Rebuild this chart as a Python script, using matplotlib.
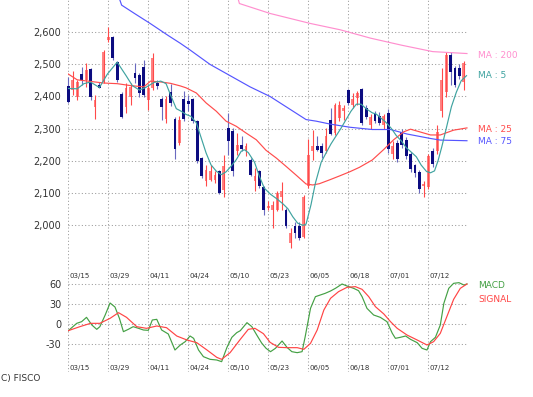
import matplotlib
matplotlib.use('Agg')
import matplotlib.pyplot as plt
import numpy as np

# daily candles, 2013-03-15 .. 2013-07-25 (90 sessions)
opens = [2433, 2420, 2399, 2470, 2451, 2485, 2366, 2436, 2446, 2576,
         2586, 2508, 2408, 2368, 2399, 2474, 2467, 2493, 2389, 2425,
         2443, 2392, 2330, 2415, 2330, 2255, 2391, 2385, 2391, 2323,
         2208, 2135, 2141, 2141, 2167, 2109, 2302, 2292, 2229, 2250,
         2229, 2203, 2135, 2167, 2117, 2052, 2047, 2047, 2086, 2047,
         1943, 1995, 1995, 1963, 2120, 2229, 2245, 2245, 2229, 2328,
         2286, 2333, 2354, 2419, 2375, 2396, 2422, 2365, 2310, 2345,
         2340, 2310, 2350, 2220, 2255, 2290, 2265, 2220, 2185, 2165,
         2120, 2118, 2230, 2230, 2355, 2415, 2530, 2490, 2490, 2445]
highs = [2462, 2480, 2451, 2493, 2503, 2490, 2405, 2446, 2545, 2618,
         2589, 2510, 2415, 2441, 2441, 2503, 2472, 2514, 2436, 2535,
         2451, 2399, 2400, 2440, 2335, 2338, 2417, 2406, 2396, 2328,
         2210, 2187, 2187, 2167, 2172, 2219, 2349, 2302, 2286, 2276,
         2255, 2208, 2177, 2172, 2120, 2073, 2073, 2104, 2133, 2052,
         1989, 2010, 2010, 2094, 2266, 2297, 2276, 2255, 2302, 2365,
         2380, 2385, 2375, 2422, 2411, 2417, 2427, 2372, 2345, 2355,
         2352, 2345, 2360, 2260, 2265, 2300, 2275, 2228, 2190, 2170,
         2135, 2222, 2240, 2310, 2490, 2538, 2540, 2495, 2500, 2512]
lows = [2379, 2405, 2389, 2436, 2431, 2389, 2330, 2425, 2441, 2571,
        2514, 2446, 2332, 2347, 2373, 2441, 2399, 2399, 2358, 2420,
        2422, 2327, 2318, 2370, 2205, 2250, 2323, 2354, 2318, 2193,
        2146, 2120, 2135, 2130, 2095, 2088, 2219, 2151, 2219, 2229,
        2213, 2151, 2104, 2114, 2031, 2047, 1989, 2042, 2046, 1989,
        1927, 1958, 1953, 1958, 2114, 2203, 2229, 2208, 2224, 2281,
        2281, 2323, 2328, 2375, 2365, 2375, 2312, 2330, 2300, 2318,
        2310, 2300, 2225, 2205, 2195, 2240, 2205, 2165, 2150, 2100,
        2085, 2112, 2180, 2222, 2335, 2397, 2435, 2430, 2455, 2420]
closes = [2384, 2451, 2446, 2451, 2483, 2397, 2389, 2428, 2540, 2586,
          2519, 2451, 2337, 2425, 2431, 2457, 2410, 2405, 2428, 2519,
          2433, 2368, 2392, 2380, 2235, 2328, 2330, 2376, 2323, 2198,
          2151, 2172, 2167, 2156, 2100, 2182, 2260, 2167, 2250, 2236,
          2245, 2156, 2151, 2120, 2047, 2057, 2062, 2099, 2105, 1995,
          1974, 1974, 1958, 2088, 2219, 2245, 2232, 2224, 2276, 2283,
          2375, 2375, 2364, 2380, 2391, 2411, 2318, 2335, 2335, 2325,
          2318, 2340, 2235, 2245, 2205, 2250, 2215, 2175, 2160, 2110,
          2128, 2215, 2190, 2290, 2450, 2530, 2475, 2435, 2465, 2505]

date_labels = ['03/15', '03/29', '04/11', '04/24', '05/10',
               '05/23', '06/05', '06/18', '07/01', '07/12']
date_pos = [0, 9, 18, 27, 36, 45, 54, 63, 72, 81]

# moving averages (session index, price)
ma5_x = [0, 2, 3.5, 5, 7, 8.8, 11, 13, 14.4, 16, 17.4, 19.3, 20.8, 22, 23,
         24.3, 25.4, 26.5, 27.6, 28.8, 29.9, 31, 32.1, 33.3, 34.4, 35.5,
         36.6, 37.8, 38.9, 39.6, 40.5, 41.9, 43, 44.1, 45.5, 47, 48.3, 49.4,
         50.5, 51.6, 52.8, 53.5, 54.6, 55.6, 56.9, 58, 59.1, 60.3, 61.4,
         62.5, 63.6, 64.8, 65.9, 67, 68.4, 69.3, 71.5, 72.7, 73.8, 74.9, 76,
         77.2, 78.3, 79.4, 80.6, 81.5, 82.4, 83.2, 84, 85.1, 86.2, 87.3,
         88.4, 89.6]
ma5_y = [2425, 2424, 2440, 2445, 2428, 2470, 2507, 2465, 2434, 2420, 2428,
         2444, 2448, 2440, 2405, 2362, 2354, 2344, 2338, 2318, 2271, 2224,
         2187, 2167, 2156, 2165, 2182, 2203, 2229, 2234, 2225, 2195, 2151,
         2114, 2095, 2080, 2065, 2050, 2025, 2005, 1998, 2002, 2062, 2130,
         2195, 2224, 2252, 2278, 2302, 2328, 2354, 2376, 2376, 2362, 2349,
         2345, 2319, 2300, 2278, 2262, 2241, 2226, 2212, 2186, 2166, 2162,
         2168, 2200, 2241, 2304, 2368, 2413, 2449, 2465]

ma25_x = [0, 2, 5, 8, 11, 14, 17, 18.5, 21, 23, 25.2, 26.5, 28.8, 31, 33.3,
          35.5, 37.8, 40, 42.3, 44.5, 46.8, 49, 51.4, 53.5, 55, 56.5, 58.8,
          61, 63.3, 65.5, 68.4, 71, 73.2, 75.5, 77, 79, 81.5, 83.7, 86.7,
          89.7]
ma25_y = [2470, 2452, 2447, 2442, 2440, 2434, 2430, 2448, 2445, 2441, 2433,
          2427, 2411, 2380, 2354, 2323, 2307, 2286, 2265, 2232, 2208, 2182,
          2153, 2127, 2124, 2128, 2140, 2152, 2165, 2179, 2202, 2235, 2265,
          2290, 2298, 2290, 2280, 2280, 2295, 2302]

ma75_x = [11.5, 12, 15, 18.4, 22.5, 25.2, 27.4, 31.9, 36.4, 40.9, 45.4,
          49.9, 53.5, 55.8, 58.9, 63.4, 68.4, 72.5, 76.2, 81.5, 83.7, 89.7]
ma75_y = [2705, 2685, 2658, 2628, 2590, 2566, 2545, 2500, 2465, 2430, 2400,
          2360, 2328, 2323, 2314, 2304, 2297, 2297, 2283, 2269, 2264, 2262]

ma200_x = [38.2, 38.5, 45.4, 54.4, 61.2, 68, 75, 82, 89.7]
ma200_y = [2705, 2690, 2659, 2628, 2608, 2582, 2560, 2540, 2534]

macd_x = [0, 1.9, 3, 4.1, 5.3, 6.4, 7.1, 8.3, 9.4, 10.5, 11.5, 12.4, 13.5,
          14.6, 15.8, 16.9, 18, 18.9, 19.9, 21, 22.5, 24, 25.2, 26.3, 27.4,
          28.2, 29.3, 30.4, 31.9, 33.4, 34.5, 35.7, 36.8, 37.9, 38.7, 40.2,
          41.3, 42.4, 43.5, 44.5, 45.5, 46.6, 48.1, 49.2, 50.3, 51.5, 52.6,
          53.3, 54.5, 55.6, 56.7, 57.8, 59, 60.1, 61.6, 62.7, 64.2, 65.3,
          66.1, 67.2, 68.7, 70.2, 71.7, 72.9, 73.6, 74.7, 75.9, 77, 78.5,
          79.6, 80.7, 81.5, 82.6, 83.7, 84.5, 85.6, 86.7, 87.9, 89, 89.7]
macd_y = [-9.5, 1.5, 4, 10.5, -1, -7.5, -3.5, 14, 32, 26, 9, -11, -7.5,
          -3.5, -6, -8.5, -9, 6.5, 7.5, -8.5, -14.5, -38.5, -31, -26, -17.5,
          -21, -38.5, -48.5, -52.5, -53.5, -56, -34.5, -19.5, -12.5, -9.5,
          2.5, -3.5, -16, -28, -36, -41, -36, -25, -34.5, -41, -42.5, -41,
          -18.5, 24, 41.5, 44, 46.5, 50, 54, 60.5, 57.5, 54, 50.5, 41.5, 24,
          14, 10.5, 4, -13.5, -21, -19.5, -17.5, -22.5, -27.5, -36, -38.5,
          -26, -19.5, -1, 31.5, 54, 61.5, 62.5, 59, 60.5]

signal_x = [0, 2.6, 5, 7.1, 9.4, 11.3, 13.1, 15.4, 17.6, 19.9, 22.1, 24.4,
            26.7, 28.9, 31.2, 33.4, 34.5, 36.4, 38.7, 40.5, 42, 43.9, 45.4,
            47.3, 49.2, 51.5, 53, 54.5, 56, 57.5, 59, 60.8, 62.7, 64.6, 66.1,
            67.6, 69.1, 71, 72.5, 74, 76.2, 78.5, 80.7, 82.2, 83.7, 85.2,
            86.7, 88.2, 89.7]
signal_y = [-9.5, -3.5, 1.5, 1.5, 9, 17.5, 10.5, -3.5, -6, -2.5, -5, -17.5,
            -23.5, -27.5, -38.5, -49.5, -52.5, -42.5, -22.5, -7.5, -6, -14,
            -27, -34.5, -35, -35, -37.5, -28.5, -8.5, 21.5, 39, 49, 55.5,
            56.5, 52.5, 41.5, 26.5, 15.5, 4, -6, -16, -23.5, -31, -26, -13.5,
            12, 37.5, 54, 60.5]

W, H = 533, 397
GRID = dict(color='#9a9a9a', lw=0.75, linestyle=(0, (1, 2.2)), zorder=0)
TXT = '#333333'
LW = 0.85

fig = plt.figure(figsize=(W / 100, H / 100), dpi=100)


def px_axes(left, top, right, bottom):
    return fig.add_axes([left / W, 1 - bottom / H, (right - left) / W, (bottom - top) / H])


ax = px_axes(68.3, 0, 468.3, 268)
ax2 = px_axes(68.3, 268, 468.3, 372)
for a in (ax, ax2):
    for s in a.spines.values():
        s.set_visible(False)
    a.set_xlim(0, 90)
    a.set_xticks([])
    a.tick_params(length=0, pad=5, labelsize=7, labelcolor=TXT)
    a.patch.set_alpha(0)
    for x in date_pos:
        a.axvline(x, **GRID)

ax.set_ylim(1865, 2701)
price_ticks = [2000, 2100, 2200, 2300, 2400, 2500, 2600]
ax.set_yticks(price_ticks, [f'{p:,}' for p in price_ticks])
for p in price_ticks:
    ax.axhline(p, **GRID)

# candles
idx = np.arange(len(closes))
o = np.array(opens)
c = np.array(closes)
up = c >= o
bot = np.minimum(o, c)
hgt = np.maximum(np.abs(c - o), 3)
ax.vlines(idx[~up], np.array(lows)[~up], np.array(highs)[~up],
          color='#6a6ac0', lw=0.8, zorder=2, clip_on=False)
ax.bar(idx[~up], hgt[~up], 0.64, bot[~up], color='#0c0c80', zorder=3, clip_on=False)
ax.bar(idx[up], hgt[up], 0.64, bot[up], color='#ff8282', zorder=3, clip_on=False)
ax.vlines(idx[up], np.array(lows)[up], np.array(highs)[up],
          color='#ff4a4a', lw=0.8, zorder=4, clip_on=False)

ax.plot(ma200_x, ma200_y, color='#ff8fcf', lw=LW, zorder=5)
ax.plot(ma75_x, ma75_y, color='#5555ff', lw=LW, zorder=5)
ax.plot(ma25_x, ma25_y, color='#ff4c4c', lw=LW, zorder=5)
ax.plot(ma5_x, ma5_y, color='#3fa3a0', lw=LW, zorder=6)

# MACD panel
ax2.set_ylim(-71.5, 84.5)
macd_ticks = [-30, 0, 30, 60]
ax2.set_yticks(macd_ticks, [str(v) for v in macd_ticks])
for v in macd_ticks:
    ax2.axhline(v, **GRID)
ax2.plot(macd_x, macd_y, color='#44a044', lw=LW, zorder=5)
ax2.plot(signal_x, signal_y, color='#ff4444', lw=LW, zorder=5)
for x, lab in zip(date_pos, date_labels):
    ax2.text(x + 0.35, 72.5, lab, fontsize=5, color=TXT, va='center', ha='left')
    ax2.text(x + 0.35, -65.5, lab, fontsize=5, color=TXT, va='center', ha='left')

# legends on the right
legend = [('MA : 200', '#ff8fcf', 55), ('MA : 5', '#3fa3a0', 75),
          ('MA : 25', '#ff4c4c', 129), ('MA : 75', '#5555ff', 142),
          ('MACD', '#44a044', 286), ('SIGNAL', '#ff4444', 299)]
for lab, col, y in legend:
    fig.text(478 / W, 1 - y / H, lab, color=col, fontsize=6.5, va='center', ha='left')

fig.text(1 / W, 1 - 379 / H, 'C) FISCO', color=TXT, fontsize=6.5, va='center', ha='left')

fig.savefig('out.png', dpi=100)
